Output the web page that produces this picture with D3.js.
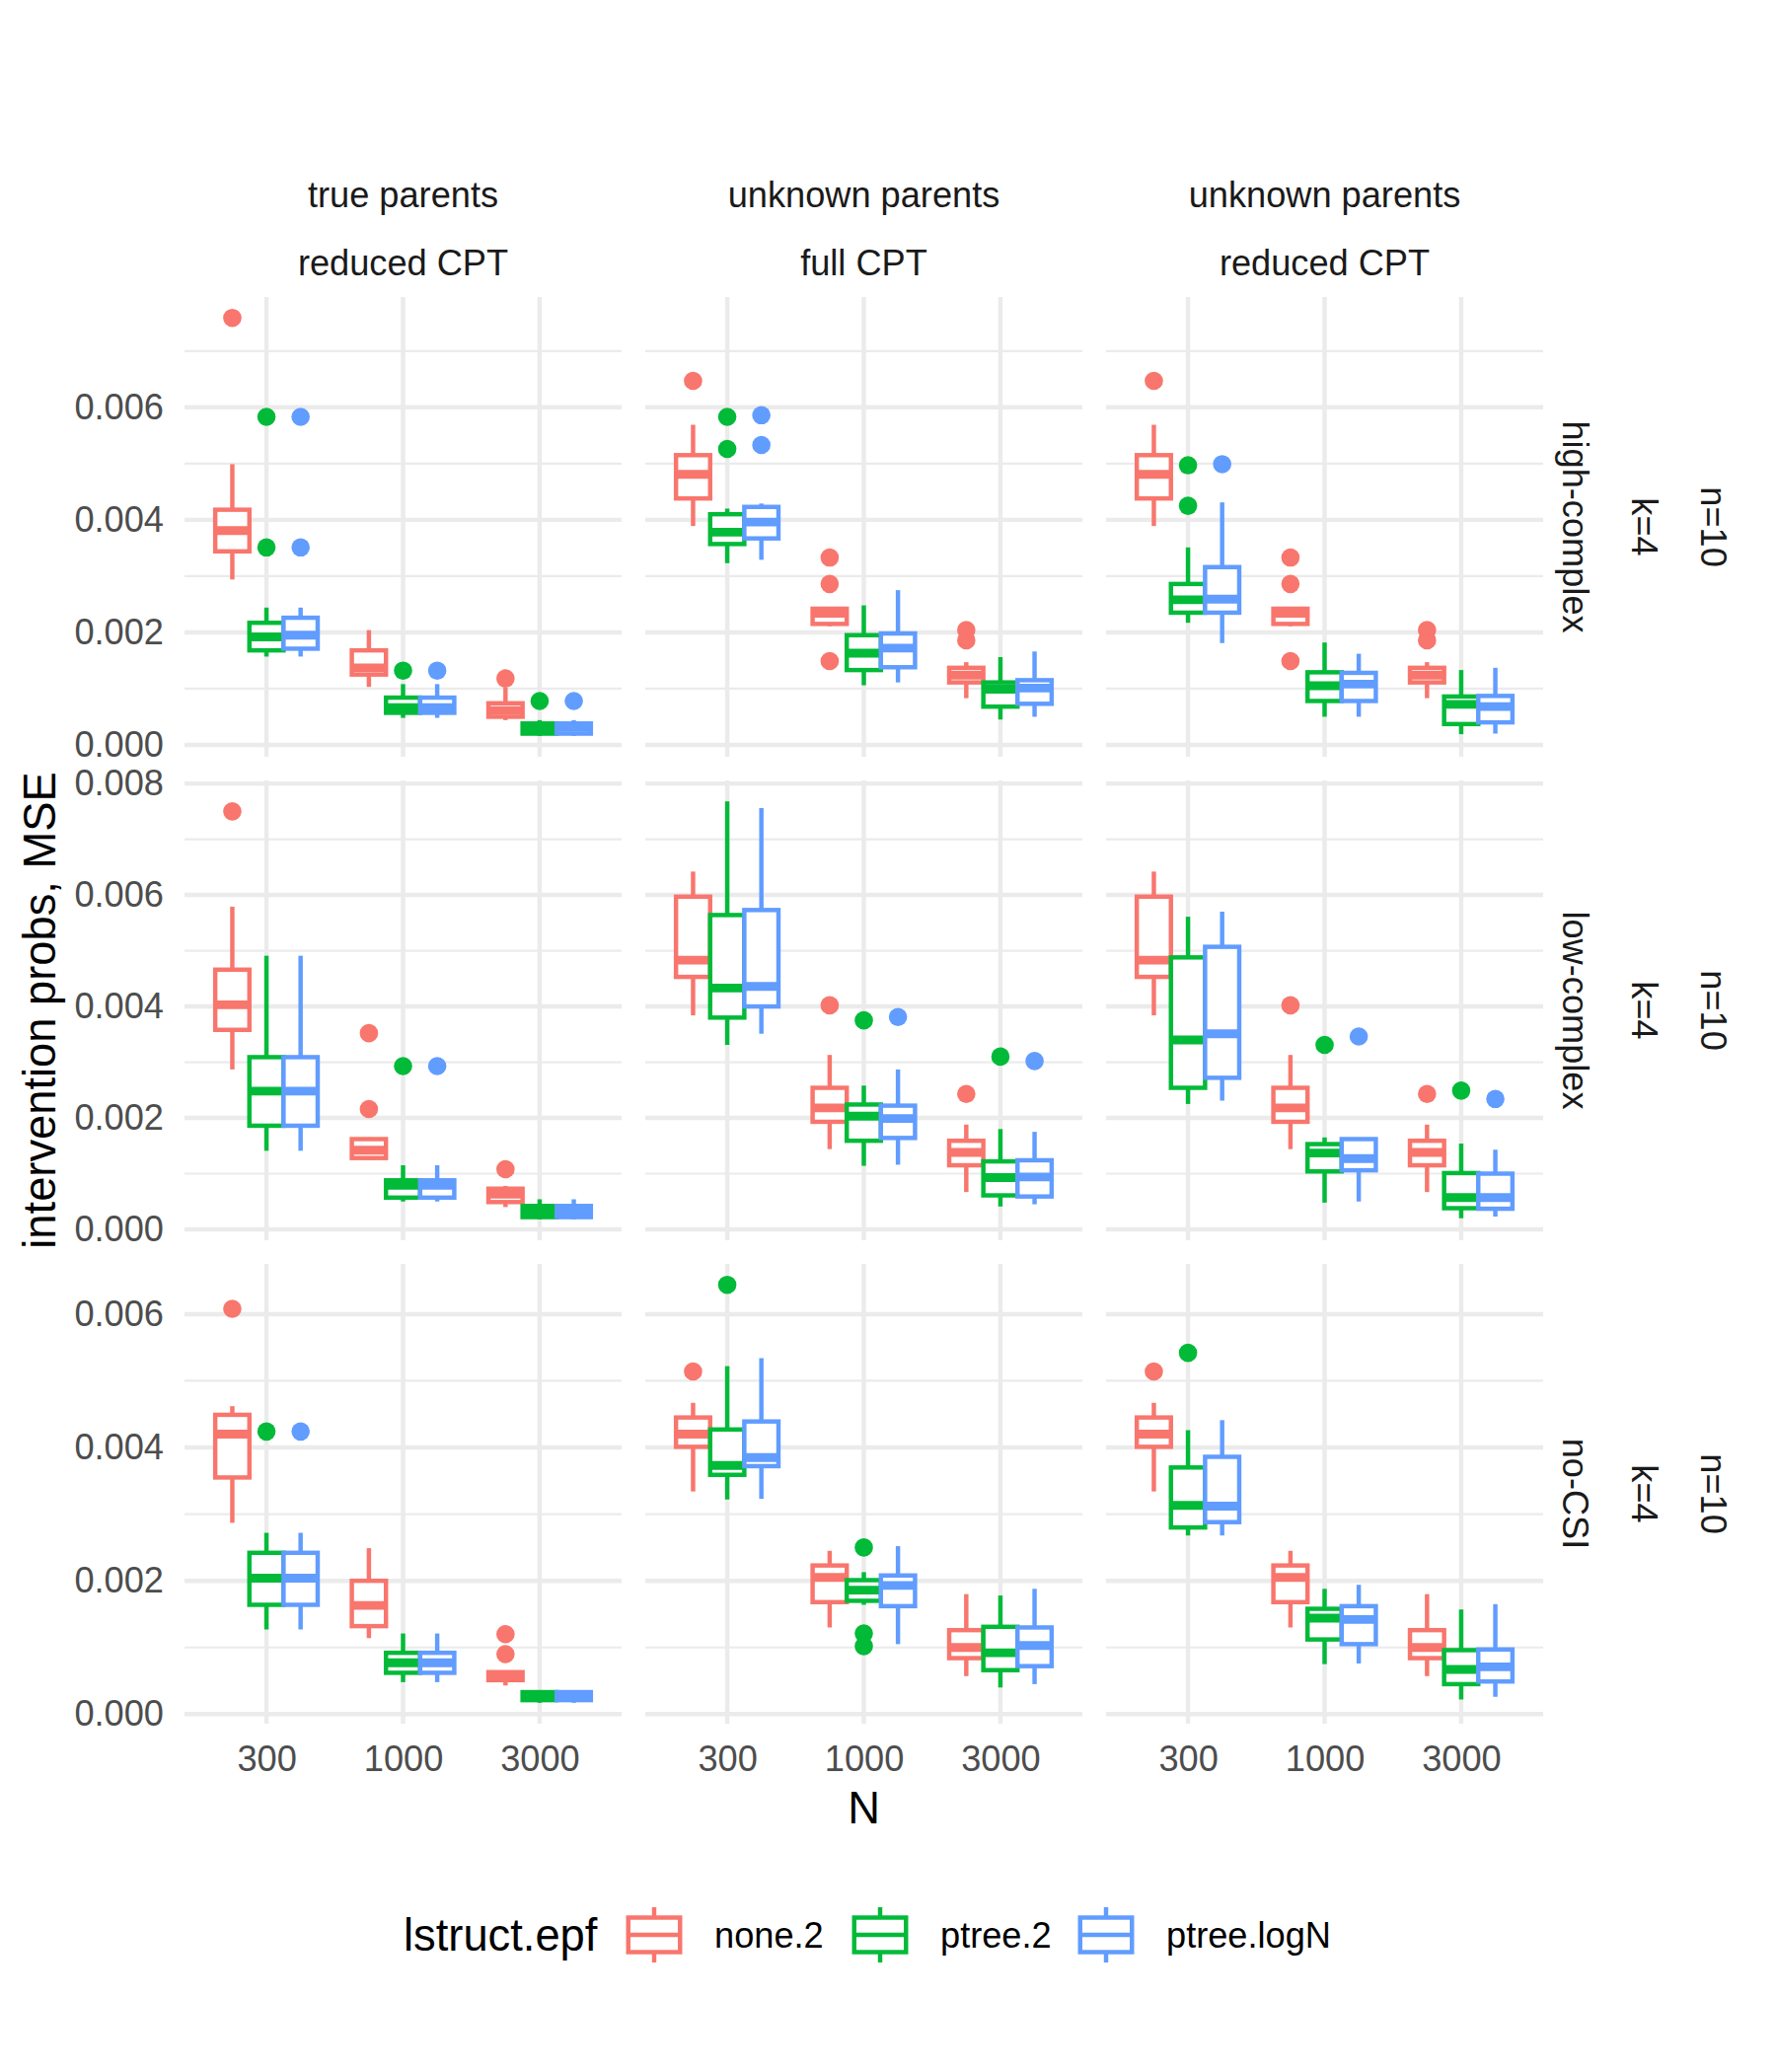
<!DOCTYPE html>
<html><head><meta charset="utf-8">
<script src="https://cdn.jsdelivr.net/npm/d3@7"></script>
<style>body{margin:0;background:#fff}svg{display:block}</style>
</head><body>
<svg id="chart" width="1800" height="2100"></svg>
<script>
// ---------------- data ----------------
const sampleSizes = ["300", "1000", "3000"];
const seriesNames = ["none.2", "ptree.2", "ptree.logN"];
const colStripTop = ["true parents", "unknown parents", "unknown parents"];
const colStripBottom = ["reduced CPT", "full CPT", "reduced CPT"];
const rowStripInner = ["high-complex", "low-complex", "no-CSI"];
const rowStripMiddle = ["k=4", "k=4", "k=4"];
const rowStripOuter = ["n=10", "n=10", "n=10"];
const yMajorTicks = [
  [0, 0.002, 0.004, 0.006],
  [0, 0.002, 0.004, 0.006, 0.008],
  [0, 0.002, 0.004, 0.006]
];
const yMinorTicks = [
  [0.001, 0.003, 0.005, 0.007],
  [0.001, 0.003, 0.005, 0.007],
  [0.001, 0.003, 0.005]
];

// each box: [lower whisker, Q1, median, Q3, upper whisker]; order: N=300 (none.2, ptree.2, ptree.logN), N=1000 (...), N=3000 (...)
const boxesHighTrue = [
  [0.00294,0.00344,0.00381,0.00418,0.00499],
  [0.00157,0.00168,0.00192,0.00217,0.00244],
  [0.00157,0.00171,0.00195,0.00226,0.00244],
  [0.00103,0.00125,0.00137,0.00168,0.00204],
  [0.00048,0.00057,0.00066,0.00084,0.00108],
  [0.00048,0.00057,0.00066,0.00084,0.00108],
  [0.00044,0.00050,0.00061,0.00074,0.00102],
  [0.00016,0.00020,0.00030,0.00038,0.00044],
  [0.00016,0.00020,0.00031,0.00038,0.00044]
];
const outHighTrue = [[0.00759],[0.00583,0.00351],[0.00583,0.00351],[],[0.00132],[0.00132],[0.00118],[0.00078],[0.00078]];

const boxesHighFull = [
  [0.00389,0.00438,0.00481,0.00515,0.00569],
  [0.00323,0.00357,0.00378,0.00410,0.00420],
  [0.00329,0.00367,0.00396,0.00423,0.00429],
  [0.00211,0.00215,0.00234,0.00242,0.00244],
  [0.00106,0.00133,0.00163,0.00195,0.00248],
  [0.00111,0.00138,0.00172,0.00198,0.00275],
  [0.00083,0.00111,0.00124,0.00137,0.00147],
  [0.00045,0.00068,0.00099,0.00111,0.00156],
  [0.00050,0.00073,0.00101,0.00115,0.00166]
];
const outHighFull = [[0.00647],[0.00583,0.00526],[0.00586,0.00533],[0.00333,0.00286,0.00149],[],[],[0.00204,0.00186],[],[]];

const boxesHighReduced = [
  [0.00389,0.00438,0.00481,0.00515,0.00569],
  [0.00217,0.00235,0.00258,0.00286,0.00351],
  [0.00181,0.00235,0.00259,0.00316,0.00431],
  [0.00211,0.00215,0.00234,0.00242,0.00244],
  [0.00050,0.00078,0.00105,0.00129,0.00182],
  [0.00050,0.00078,0.00108,0.00128,0.00162],
  [0.00083,0.00111,0.00124,0.00137,0.00147],
  [0.00019,0.00037,0.00072,0.00086,0.00133],
  [0.00020,0.00040,0.00068,0.00087,0.00137]
];
const outHighReduced = [[0.00647],[0.00497,0.00425],[0.00499],[0.00333,0.00286,0.00149],[],[],[0.00204,0.00186],[],[]];

const boxesLowTrue = [
  [0.00287,0.00358,0.00403,0.00466,0.00579],
  [0.00141,0.00186,0.00248,0.00309,0.00491],
  [0.00141,0.00186,0.00248,0.00309,0.00491],
  [0.00125,0.00128,0.00142,0.00162,0.00165],
  [0.00050,0.00057,0.00079,0.00088,0.00115],
  [0.00050,0.00057,0.00079,0.00088,0.00115],
  [0.00040,0.00049,0.00063,0.00073,0.00078],
  [0.00018,0.00022,0.00031,0.00042,0.00054],
  [0.00018,0.00022,0.00031,0.00042,0.00054]
];
const outLowTrue = [[0.00750],[],[],[0.00352,0.00216],[0.00293],[0.00293],[0.00108],[],[]];

const boxesLowFull = [
  [0.00384,0.00453,0.00483,0.00597,0.00642],
  [0.00331,0.00380,0.00433,0.00564,0.00768],
  [0.00351,0.00400,0.00436,0.00573,0.00756],
  [0.00144,0.00193,0.00218,0.00254,0.00313],
  [0.00114,0.00159,0.00203,0.00224,0.00258],
  [0.00116,0.00164,0.00199,0.00222,0.00287],
  [0.00067,0.00115,0.00138,0.00159,0.00188],
  [0.00041,0.00061,0.00093,0.00122,0.00180],
  [0.00045,0.00059,0.00094,0.00124,0.00175]
];
const outLowFull = [[],[],[],[0.00402],[0.00375],[0.00381],[0.00243],[0.00310],[0.00302]];

const boxesLowReduced = [
  [0.00384,0.00453,0.00483,0.00597,0.00642],
  [0.00225,0.00254,0.00340,0.00488,0.00561],
  [0.00231,0.00272,0.00351,0.00507,0.00570],
  [0.00144,0.00193,0.00218,0.00254,0.00313],
  [0.00048,0.00104,0.00137,0.00153,0.00165],
  [0.00050,0.00106,0.00127,0.00162,0.00162],
  [0.00067,0.00115,0.00138,0.00159,0.00188],
  [0.00020,0.00038,0.00057,0.00101,0.00154],
  [0.00023,0.00037,0.00057,0.00100,0.00143]
];
const outLowReduced = [[],[],[],[0.00402],[0.00331],[0.00346],[0.00243],[0.00249],[0.00234]];

const boxesNoTrue = [
  [0.00287,0.00355,0.00420,0.00449,0.00462],
  [0.00127,0.00164,0.00204,0.00242,0.00272],
  [0.00127,0.00164,0.00204,0.00242,0.00272],
  [0.00114,0.00132,0.00163,0.00200,0.00249],
  [0.00048,0.00062,0.00077,0.00092,0.00121],
  [0.00048,0.00062,0.00077,0.00092,0.00121],
  [0.00043,0.00051,0.00057,0.00063,0.00063],
  [0.00017,0.00021,0.00027,0.00033,0.00033],
  [0.00017,0.00021,0.00027,0.00033,0.00033]
];
const outNoTrue = [[0.00608],[0.00424],[0.00424],[],[],[],[0.00120,0.00090],[],[]];

const boxesNoFull = [
  [0.00334,0.00401,0.00420,0.00445,0.00467],
  [0.00322,0.00359,0.00373,0.00427,0.00522],
  [0.00323,0.00372,0.00385,0.00439,0.00534],
  [0.00130,0.00168,0.00205,0.00223,0.00245],
  [0.00164,0.00170,0.00186,0.00201,0.00213],
  [0.00105,0.00162,0.00193,0.00208,0.00252],
  [0.00057,0.00084,0.00100,0.00126,0.00180],
  [0.00040,0.00066,0.00092,0.00131,0.00178],
  [0.00045,0.00072,0.00103,0.00130,0.00188]
];
const outNoFull = [[0.00514],[0.00644],[],[],[0.00250,0.00121,0.00102],[],[],[],[]];

const boxesNoReduced = [
  [0.00334,0.00401,0.00420,0.00445,0.00467],
  [0.00268,0.00280,0.00313,0.00370,0.00426],
  [0.00268,0.00288,0.00312,0.00386,0.00441],
  [0.00130,0.00168,0.00205,0.00223,0.00245],
  [0.00075,0.00112,0.00144,0.00158,0.00188],
  [0.00076,0.00105,0.00142,0.00162,0.00194],
  [0.00057,0.00084,0.00100,0.00126,0.00180],
  [0.00022,0.00045,0.00067,0.00096,0.00157],
  [0.00026,0.00049,0.00071,0.00097,0.00165]
];
const outNoReduced = [[0.00514],[0.00542],[],[],[],[],[],[],[]];

const seriesColors = ["#F8766D", "#00BA38", "#619CFF"];

const panelBoxes = [
  [boxesHighTrue, boxesHighFull, boxesHighReduced],
  [boxesLowTrue, boxesLowFull, boxesLowReduced],
  [boxesNoTrue, boxesNoFull, boxesNoReduced]
];
const panelOutliers = [
  [outHighTrue, outHighFull, outHighReduced],
  [outLowTrue, outLowFull, outLowReduced],
  [outNoTrue, outNoFull, outNoReduced]
];

// ---------------- layout ----------------
const FONT = "'Liberation Sans', Arial, Helvetica, sans-serif";
const FS_SMALL = 36.2, FS_BIG = 45.3;
const colX = [187, 654, 1121];
const rowY = [301, 791, 1281];
const PW = 443, PH = 466;
const LW = 4.45;
const GRID = "#EBEBEB";

const svg = d3.select("#chart");
svg.append("rect").attr("width", 1800).attr("height", 2100).attr("fill", "#fff");

const x = d3.scalePoint().domain(sampleSizes).range([0, PW]).padding(0.6);
const step = x.step();
const dodge = d3.scaleBand().domain(seriesNames).range([-0.375 * step, 0.375 * step]);
const bw = dodge.bandwidth();
const color = d3.scaleOrdinal().domain(seriesNames).range(seriesColors);

// y scales per row (free y per row), ggplot-like 5% expansion
const yScales = panelBoxes.map((rowPanels, r) => {
  const vals = [];
  rowPanels.forEach((boxes, c) => {
    boxes.forEach(b => vals.push(b[0], b[4]));
    panelOutliers[r][c].forEach(o => o.forEach(v => vals.push(v)));
  });
  const [mn, mx] = d3.extent(vals);
  const pad = (mx - mn) * 0.05;
  return d3.scaleLinear().domain([mn - pad, mx + pad]).range([PH, 0]);
});

for (let r = 0; r < 3; r++) {
  const y = yScales[r];
  for (let c = 0; c < 3; c++) {
    const g = svg.append("g").attr("transform", `translate(${colX[c]},${rowY[r]})`);
    // grid
    g.selectAll(".minor").data(yMinorTicks[r]).join("line")
      .attr("x1", 0).attr("x2", PW).attr("y1", d => y(d)).attr("y2", d => y(d))
      .attr("stroke", GRID).attr("stroke-width", LW / 2);
    g.selectAll(".major").data(yMajorTicks[r]).join("line")
      .attr("x1", 0).attr("x2", PW).attr("y1", d => y(d)).attr("y2", d => y(d))
      .attr("stroke", GRID).attr("stroke-width", LW);
    g.selectAll(".vmajor").data(sampleSizes).join("line")
      .attr("x1", d => x(d)).attr("x2", d => x(d)).attr("y1", 0).attr("y2", PH)
      .attr("stroke", GRID).attr("stroke-width", LW);

    const boxes = panelBoxes[r][c];
    const outs = panelOutliers[r][c];
    const items = [];
    sampleSizes.forEach((n, i) => seriesNames.forEach((s, j) => {
      const k = i * 3 + j;
      items.push({ n, s, st: boxes[k], out: outs[k], cx: x(n) + dodge(s) + bw / 2 });
    }));
    items.forEach(it => {
      const bg = g.append("g");
      const col = color(it.s);
      bg.selectAll("circle").data(it.out).join("circle")
        .attr("cx", it.cx).attr("cy", d => y(d)).attr("r", 9.3).attr("fill", col);
      const [lo, q1, md, q3, hi] = it.st;
      bg.append("line").attr("x1", it.cx).attr("x2", it.cx).attr("y1", y(q3)).attr("y2", y(hi))
        .attr("stroke", col).attr("stroke-width", LW);
      bg.append("line").attr("x1", it.cx).attr("x2", it.cx).attr("y1", y(q1)).attr("y2", y(lo))
        .attr("stroke", col).attr("stroke-width", LW);
      bg.append("rect").attr("x", it.cx - bw / 2).attr("y", y(q3)).attr("width", bw)
        .attr("height", Math.max(0.01, y(q1) - y(q3)))
        .attr("fill", "#fff").attr("stroke", col).attr("stroke-width", LW);
      bg.append("line").attr("x1", it.cx - bw / 2).attr("x2", it.cx + bw / 2)
        .attr("y1", y(md)).attr("y2", y(md)).attr("stroke", col).attr("stroke-width", LW * 2);
    });

    // y axis on first column
    if (c === 0) {
      const ax = g.append("g").call(d3.axisLeft(y).tickValues(yMajorTicks[r])
        .tickFormat(d3.format(".3f")).tickSize(0).tickPadding(21));
      ax.select(".domain").remove();
      ax.selectAll("text").attr("font-family", FONT).attr("font-size", FS_SMALL).attr("fill", "#4D4D4D");
    }
    // x axis on bottom row
    if (r === 2) {
      const ax = g.append("g").attr("transform", `translate(0,${PH})`)
        .call(d3.axisBottom(x).tickSize(0).tickPadding(22));
      ax.select(".domain").remove();
      ax.selectAll("text").attr("font-family", FONT).attr("font-size", FS_SMALL).attr("fill", "#4D4D4D");
    }
  }
}

// top strips
colX.forEach((cx0, c) => {
  svg.append("text").attr("x", cx0 + PW / 2).attr("y", 197).attr("dy", "0.35em")
    .attr("text-anchor", "middle").attr("font-family", FONT).attr("font-size", FS_SMALL)
    .attr("fill", "#1A1A1A").text(colStripTop[c]);
  svg.append("text").attr("x", cx0 + PW / 2).attr("y", 266).attr("dy", "0.35em")
    .attr("text-anchor", "middle").attr("font-family", FONT).attr("font-size", FS_SMALL)
    .attr("fill", "#1A1A1A").text(colStripBottom[c]);
});
// right strips
const rightStrips = [[rowStripInner, 1597], [rowStripMiddle, 1667], [rowStripOuter, 1737]];
rowY.forEach((ry, r) => {
  rightStrips.forEach(([labels, sx]) => {
    svg.append("text").attr("transform", `translate(${sx},${ry + PH / 2}) rotate(90)`)
      .attr("dy", "0.35em").attr("text-anchor", "middle").attr("font-family", FONT)
      .attr("font-size", FS_SMALL).attr("fill", "#1A1A1A").text(labels[r]);
  });
});

// axis titles
svg.append("text").attr("x", colX[1] + PW / 2).attr("y", 1832).attr("dy", "0.35em")
  .attr("text-anchor", "middle").attr("font-family", FONT).attr("font-size", FS_BIG)
  .attr("fill", "#000").text("N");
svg.append("text").attr("transform", `translate(40,${(rowY[0] + rowY[2] + PH) / 2}) rotate(-90)`)
  .attr("dy", "0.35em").attr("text-anchor", "middle").attr("font-family", FONT)
  .attr("font-size", FS_BIG).attr("fill", "#000").text("intervention probs, MSE");

// legend
const legY = 1961;
svg.append("text").attr("x", 409).attr("y", legY).attr("dy", "0.35em")
  .attr("font-family", FONT).attr("font-size", FS_BIG).attr("fill", "#000").text("lstruct.epf");
const legX = d3.scalePoint().domain(seriesNames).range([663, 1121]);
const K = 70;
seriesNames.forEach(s => {
  const cx = legX(s), col = color(s);
  const lg = svg.append("g");
  lg.append("line").attr("x1", cx).attr("x2", cx).attr("y1", legY - 0.4 * K).attr("y2", legY - 0.25 * K)
    .attr("stroke", col).attr("stroke-width", LW);
  lg.append("line").attr("x1", cx).attr("x2", cx).attr("y1", legY + 0.25 * K).attr("y2", legY + 0.4 * K)
    .attr("stroke", col).attr("stroke-width", LW);
  lg.append("rect").attr("x", cx - 0.375 * K).attr("y", legY - 0.25 * K).attr("width", 0.75 * K)
    .attr("height", 0.5 * K).attr("fill", "#fff").attr("stroke", col).attr("stroke-width", LW);
  lg.append("line").attr("x1", cx - 0.375 * K).attr("x2", cx + 0.375 * K).attr("y1", legY).attr("y2", legY)
    .attr("stroke", col).attr("stroke-width", LW);
  lg.append("text").attr("x", cx + 61).attr("y", legY).attr("dy", "0.35em")
    .attr("font-family", FONT).attr("font-size", FS_SMALL).attr("fill", "#000").text(s);
});
</script>
</body></html>
